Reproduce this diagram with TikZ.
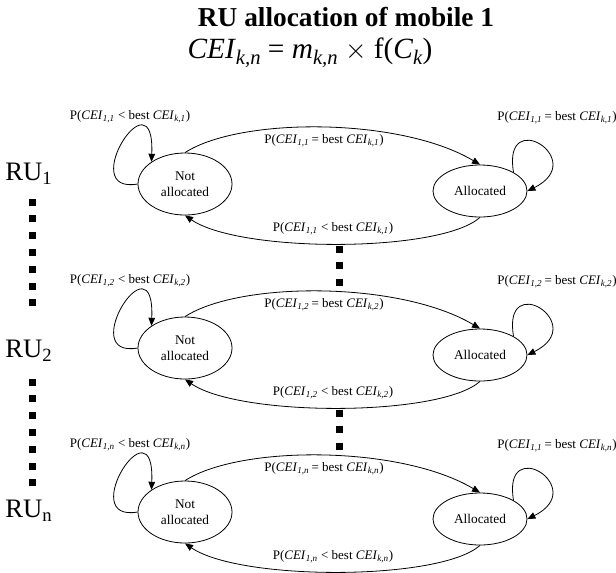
\documentclass[tikz,border=0pt]{standalone}
\usepackage{fontspec}
\setmainfont{Liberation Serif}
\usetikzlibrary{shapes.geometric,arrows.meta}

\newcommand{\cei}[1]{\textit{CEI}\textsubscript{\textit{#1}}}
\newcommand{\plt}[2]{P(\cei{#1} < best \cei{#2})}
\newcommand{\peq}[2]{P(\cei{#1}\,= best \cei{#2})}
\newcommand{\fsub}[1]{\raisebox{-0.22em}{\fontsize{15.5}{15.5}\selectfont\textit{#1}}}

\tikzset{
    state/.style={draw, ellipse, line width=0.6pt, inner sep=0pt, align=center,
        font=\fontsize{10}{12}\selectfont},
    notalloc/.style={state, minimum width=70.5pt, minimum height=46.5pt},
    alloc/.style={state, minimum width=70.5pt, minimum height=39pt},
    problabel/.style={inner sep=0pt, font=\fontsize{9.75}{12}\selectfont},
    trans/.style={line width=0.6pt, -{Triangle[length=6pt,width=5pt]}},
    rulabel/.style={inner sep=0pt, anchor=base west, font=\fontsize{20}{24}\selectfont}
}

\begin{document}
\begin{tikzpicture}[x=0.75pt, y=-0.75pt]
    \useasboundingbox (0,0) rectangle (616,572);

    % heading
    \node[inner sep=0pt, anchor=base, font=\bfseries\fontsize{20.5}{23}\selectfont] (title) at (346,26) {RU allocation of mobile 1};
    \node[inner sep=0pt, anchor=base, font=\fontsize{22}{24}\selectfont] (formula) at (310,58)
        {\textit{CEI}\fsub{k,n} = \textit{m}\fsub{k,n} $\times$ f(\textit{C}\fsub{k})};

    % resource units on the left
    \node[rulabel] (ru1) at (5,180) {RU\textsubscript{1}};
    \node[rulabel] (ru2) at (5,357) {RU\textsubscript{2}};
    \node[rulabel] (run) at (5,517) {RU\textsubscript{n}};

    \foreach \y in {202,218.8,235.6,252.4,269.2,286,302.8}
        \fill[black] (28.5,\y-3.5) rectangle (35.5,\y+3.5);
    \foreach \y in {382,398.8,415.6,432.4,449.2,466,482.8}
        \fill[black] (28.5,\y-3.5) rectangle (35.5,\y+3.5);
    \foreach \y in {249,265.5,282,413,429.5,446}
        \fill[black] (335.5,\y-3.5) rectangle (342.5,\y+3.5);

    % RU 1
    \node[notalloc] (na1) at (185,184) {Not\\allocated};
    \node[alloc] (al1) at (480,191) {Allocated};
    \draw[trans] (na1.north) .. controls (240,117) and (400,117) .. (al1.north);
    \draw[trans] (al1.south) .. controls (440,253) and (240,253) .. (na1.south);
    \draw[trans] (na1.west) .. controls (75,195) and (155,70) .. (na1.north west);
    \draw[trans] (al1.north east) .. controls (502,105) and (590,160) .. (al1.east);
    \node[problabel] (p11) at (130,117) {\plt{1,1}{k,1}};
    \node[problabel] (p12) at (324,141) {\peq{1,1}{k,1}};
    \node[problabel] (p13) at (333,229) {\plt{1,1}{k,1}};
    \node[problabel] (p14) at (557,118) {\peq{1,1}{k,1}};

    % RU 2
    \node[notalloc] (na2) at (185,348) {Not\\allocated};
    \node[alloc] (al2) at (480,355) {Allocated};
    \draw[trans] (na2.north) .. controls (240,281) and (400,281) .. (al2.north);
    \draw[trans] (al2.south) .. controls (440,417) and (240,417) .. (na2.south);
    \draw[trans] (na2.west) .. controls (75,359) and (155,234) .. (na2.north west);
    \draw[trans] (al2.north east) .. controls (502,269) and (590,324) .. (al2.east);
    \node[problabel] (p21) at (130,281) {\plt{1,2}{k,2}};
    \node[problabel] (p22) at (324,305) {\peq{1,2}{k,2}};
    \node[problabel] (p23) at (333,393) {\plt{1,2}{k,2}};
    \node[problabel] (p24) at (557,282) {\peq{1,2}{k,2}};

    % RU n
    \node[notalloc] (na3) at (185,512) {Not\\allocated};
    \node[alloc] (al3) at (480,519) {Allocated};
    \draw[trans] (na3.north) .. controls (240,445) and (400,445) .. (al3.north);
    \draw[trans] (al3.south) .. controls (440,581) and (240,581) .. (na3.south);
    \draw[trans] (na3.west) .. controls (75,523) and (155,398) .. (na3.north west);
    \draw[trans] (al3.north east) .. controls (502,433) and (590,488) .. (al3.east);
    \node[problabel] (p31) at (130,445) {\plt{1,n}{k,n}};
    \node[problabel] (p32) at (324,469) {\peq{1,n}{k,n}};
    \node[problabel] (p33) at (333,557) {\plt{1,n}{k,n}};
    \node[problabel] (p34) at (557,446) {\peq{1,1}{k,n}};
\end{tikzpicture}
\end{document}
